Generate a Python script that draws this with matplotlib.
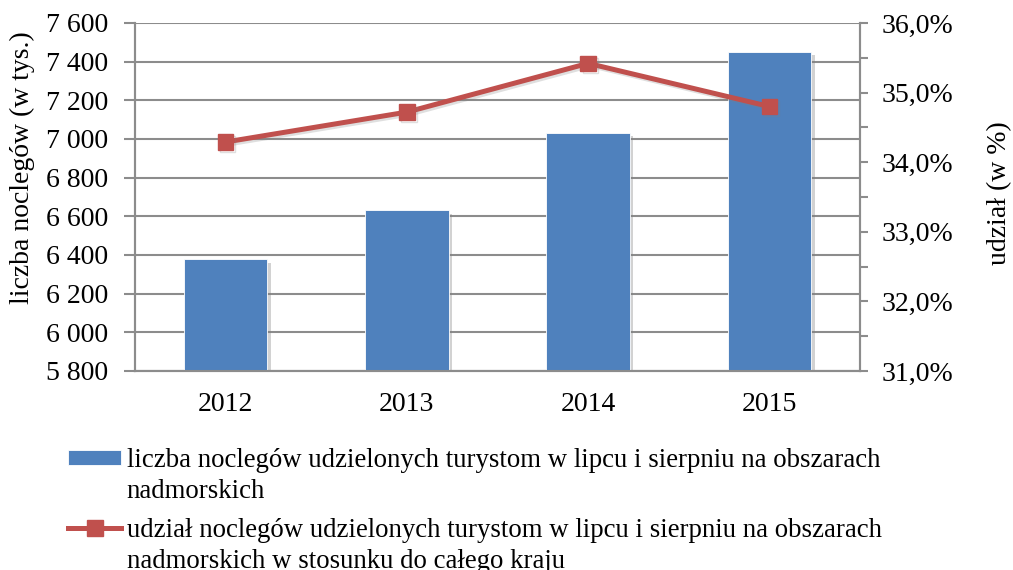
import matplotlib.pyplot as plt
import matplotlib.patheffects as pe
import matplotlib.transforms as mtransforms
from matplotlib.legend_handler import HandlerLine2D, HandlerPatch
from matplotlib.lines import Line2D
from matplotlib.patches import Patch
from matplotlib.ticker import FuncFormatter, MultipleLocator
import numpy as np

plt.rcParams['font.family'] = ['Liberation Serif', 'DejaVu Serif']

years = ['2012', '2013', '2014', '2015']
noclegi = [6378, 6631, 7033, 7450]          # tys.
udzial = [34.29, 34.72, 35.42, 34.80]       # %

label_bar = 'liczba noclegów udzielonych turystom w lipcu i sierpniu na obszarach\nnadmorskich'
label_line = 'udział noclegów udzielonych turystom w lipcu i sierpniu na obszarach\nnadmorskich w stosunku do całego kraju'

bar_color = '#4F81BD'
line_color = '#C0504D'
grid_color = '#8C8C8C'


# legend handles sit next to the first line of a two-line label, not in the middle
def raised(base, dy=13.5):
    class Raised(base):
        def create_artists(self, legend, orig_handle, xdescent, ydescent,
                           width, height, fontsize, trans):
            shifted = mtransforms.Affine2D().translate(0, dy) + trans
            arts = super().create_artists(legend, orig_handle, xdescent, ydescent,
                                          width, height, fontsize, shifted)
            return arts
    return Raised()


fig = plt.figure(figsize=(10.13, 5.70), dpi=100)
ax = fig.add_axes([135 / 1013, 1 - 371 / 570, (860 - 135) / 1013, (371 - 23) / 570])
ax2 = ax.twinx()

x = np.arange(len(years))
bars = ax.bar(x, noclegi, width=0.46, color=bar_color, edgecolor='white', linewidth=0.6, zorder=3)
for b in bars:
    b.set_path_effects([pe.SimplePatchShadow(offset=(2.5, -2.5), shadow_rgbFace='#808080', alpha=0.35),
                        pe.Normal()])

line, = ax2.plot(x, udzial, color=line_color, lw=3.6, marker='s', markersize=11, zorder=4)
line.set_path_effects([pe.SimpleLineShadow(offset=(1.5, -1.5), shadow_color='#808080', alpha=0.25),
                       pe.Normal()])

ax.set_xlim(-0.5, 3.5)
ax.set_ylim(5800, 7600)
ax.set_yticks(np.arange(5800, 7601, 200))
ax.yaxis.set_major_formatter(FuncFormatter(lambda v, p: f'{int(v):,}'.replace(',', ' ')))
ax.grid(axis='y', color=grid_color, lw=1.5, zorder=0)
ax.set_axisbelow(True)
ax.set_xticks(x)
ax.set_xticklabels(years)

ax2.set_ylim(31, 36)
ax2.set_yticks(np.arange(31, 36.01, 1))
ax2.yaxis.set_minor_locator(MultipleLocator(0.5))
ax2.yaxis.set_major_formatter(FuncFormatter(lambda v, p: f'{v:.1f}'.replace('.', ',') + '%'))

for a in (ax, ax2):
    a.spines['top'].set_visible(False)
    for s in ('left', 'right', 'bottom'):
        a.spines[s].set_color(grid_color)
        a.spines[s].set_linewidth(1.5)

ax.tick_params(axis='y', length=8, width=1.5, color=grid_color, pad=11, labelsize=20)
ax.tick_params(axis='x', length=0, pad=15, labelsize=20)
ax2.tick_params(axis='y', which='major', length=6, width=1.5, color=grid_color, pad=9.5, labelsize=20)
ax2.tick_params(axis='y', which='minor', length=6, width=1.5, color=grid_color)

ax.set_ylabel('liczba noclegów (w tys.)', fontsize=20)
ax.yaxis.set_label_coords(-0.138, 0.585)
ax2.set_ylabel('udział (w %)', fontsize=20)
ax2.yaxis.set_label_coords(1.175, 0.51)

bar_handle = Patch(facecolor=bar_color, edgecolor='white', linewidth=0.6)
line_handle = Line2D([], [], color=line_color, lw=3.6, marker='s', markersize=11)
leg = fig.legend(handles=[bar_handle, line_handle], labels=[label_bar, label_line], loc='upper left',
                 bbox_to_anchor=(68 / 1013, 1 - 448 / 570), frameon=False, fontsize=19.25,
                 handlelength=2.0, handleheight=0.5, handletextpad=0.2, labelspacing=0.5,
                 borderpad=0, borderaxespad=0,
                 handler_map={bar_handle: raised(HandlerPatch), line_handle: raised(HandlerLine2D)})
for t in leg.get_texts():
    t.set_linespacing(1.33)

plt.savefig('out.png', dpi=100)
